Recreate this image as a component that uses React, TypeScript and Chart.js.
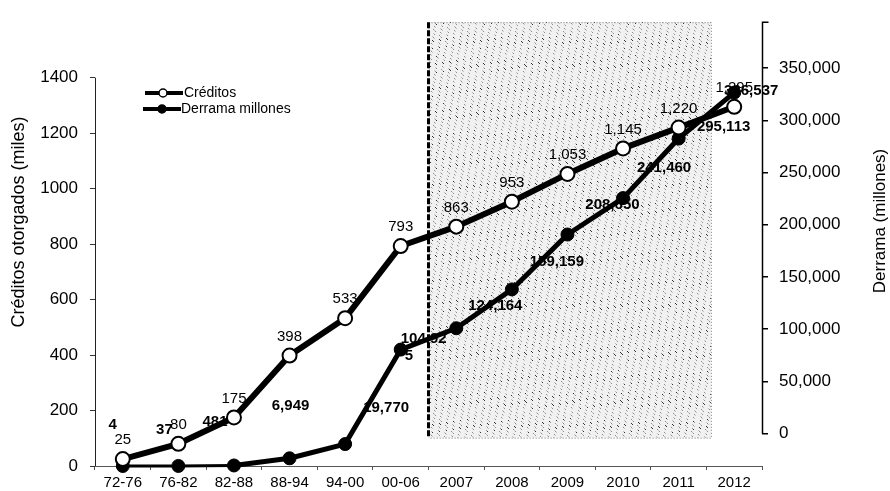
import React, { useEffect, useRef } from "react";
import { Chart, registerables } from "chart.js";

Chart.register(...registerables);

// ---- data ----
const categories = ["72-76", "76-82", "82-88", "88-94", "94-00", "00-06", "2007", "2008", "2009", "2010", "2011", "2012"];
const seriesNames = ["Créditos", "Derrama millones"];
const creditos = [25, 80, 175, 398, 533, 793, 863, 953, 1053, 1145, 1220, 1295];
const derrama = [4, 37, 481, 6949, 19770, 104925, 124164, 159159, 208650, 241460, 295113, 336537];
const leftTicks = [0, 200, 400, 600, 800, 1000, 1200, 1400];
const rightTicks = [0, 50000, 100000, 150000, 200000, 250000, 300000, 350000];
const leftTitle = "Créditos otorgados (miles)";
const rightTitle = "Derrama (millones)";

// ---- label placement (style, not data) ----
const derramaLabelLayout = [
  { dx: -10, dy: -41 },
  { dx: -14, dy: -36 },
  { dx: -19, dy: -44 },
  { dx: 1, dy: -52 },
  { dx: 41, dy: -36 },
  { dx: 0, dy: -11, wrap: 6 },
  { dx: 39, dy: -22 },
  { dx: 45, dy: -28 },
  { dx: 45, dy: -30 },
  { dx: 41, dy: -30 },
  { dx: 45, dy: -12 },
  { dx: 17, dy: -2 },
];

const FAMILY = '"Liberation Sans", Arial, Helvetica, sans-serif';
const fmt = (v: number) => Number(v).toLocaleString("en-US");

function makeStipple(): HTMLCanvasElement {
  const c = document.createElement("canvas");
  c.width = 48;
  c.height = 48;
  const g = c.getContext("2d")!;
  g.fillStyle = "#f1f1f1";
  g.fillRect(0, 0, 48, 48);
  for (let i = 0; i < 230; i++) {
    const x = (i * 37 + 11 + Math.floor(i / 48) * 5) % 48;
    const y = (i * 29 + 7 + Math.floor(i / 48) * 17) % 48;
    g.fillStyle = i % 5 === 0 ? "#333" : i % 2 === 0 ? "#8f8f8f" : "#c2c2c2";
    g.fillRect(x, y, 1, 1);
  }
  return c;
}

const decorPlugin = {
  id: "decor",
  beforeDatasetsDraw(chart: any) {
    const ctx = chart.ctx as CanvasRenderingContext2D;
    const { chartArea } = chart;
    const x = chart.scales.x;
    const yR = chart.scales.yR;
    const left = (x.getPixelForValue(5) + x.getPixelForValue(6)) / 2;
    const right = x.getPixelForValue(10) + 0.58 * (x.getPixelForValue(11) - x.getPixelForValue(10));
    const top = chartArea.top;
    const bottom = yR.getPixelForValue(0) + 4;
    ctx.save();
    const pat = ctx.createPattern(makeStipple(), "repeat");
    ctx.fillStyle = pat || "#e8e8e8";
    ctx.fillRect(left, top, right - left, bottom - top);
    // thin dotted border
    ctx.strokeStyle = "#777";
    ctx.lineWidth = 1;
    ctx.setLineDash([1, 2]);
    ctx.beginPath();
    ctx.moveTo(left, top + 0.5);
    ctx.lineTo(right + 0.5, top + 0.5);
    ctx.lineTo(right + 0.5, bottom + 0.5);
    ctx.lineTo(left, bottom + 0.5);
    ctx.stroke();
    // thick dashed left edge
    ctx.strokeStyle = "#000";
    ctx.lineWidth = 3;
    ctx.setLineDash([6, 2]);
    ctx.beginPath();
    ctx.moveTo(left, top);
    ctx.lineTo(left, bottom);
    ctx.stroke();
    ctx.setLineDash([]);

    // derrama labels (drawn under the lines)
    const meta = chart.getDatasetMeta(1);
    ctx.fillStyle = "#000";
    ctx.font = `bold 15px ${FAMILY}`;
    ctx.textBaseline = "middle";
    derrama.forEach((v, i) => {
      const p = meta.data[i];
      const lay: any = derramaLabelLayout[i];
      const txt = fmt(v);
      if (lay.wrap) {
        ctx.textAlign = "left";
        ctx.fillText(txt.slice(0, lay.wrap), p.x + lay.dx, p.y + lay.dy);
        ctx.fillText(txt.slice(lay.wrap), p.x + lay.dx + 4, p.y + lay.dy + 17);
      } else {
        ctx.textAlign = "center";
        ctx.fillText(txt, p.x + lay.dx, p.y + lay.dy);
      }
    });
    ctx.restore();
  },
  afterDatasetsDraw(chart: any) {
    const ctx = chart.ctx as CanvasRenderingContext2D;
    const meta = chart.getDatasetMeta(0);
    ctx.save();
    ctx.fillStyle = "#000";
    ctx.font = `15px ${FAMILY}`;
    ctx.textAlign = "center";
    ctx.textBaseline = "middle";
    creditos.forEach((v, i) => {
      const p = meta.data[i];
      ctx.fillText(fmt(v), p.x, p.y - 19);
    });
    ctx.restore();
  },
  afterDraw(chart: any) {
    const ctx = chart.ctx as CanvasRenderingContext2D;
    const { chartArea } = chart;
    const y = chart.scales.y;
    const yR = chart.scales.yR;
    ctx.save();
    // left axis line (0..1400)
    ctx.strokeStyle = "#222";
    ctx.lineWidth = 1;
    ctx.beginPath();
    ctx.moveTo(chartArea.left + 0.5, y.getPixelForValue(leftTicks[leftTicks.length - 1]));
    ctx.lineTo(chartArea.left + 0.5, chartArea.bottom);
    ctx.stroke();
    // right axis line
    const rx = chartArea.right + 0.5;
    ctx.strokeStyle = "#000";
    ctx.lineWidth = 1.5;
    ctx.beginPath();
    ctx.moveTo(rx + 6, chartArea.top);
    ctx.lineTo(rx, chartArea.top);
    ctx.lineTo(rx, yR.getPixelForValue(0));
    ctx.stroke();

    // axis titles
    ctx.fillStyle = "#000";
    ctx.textAlign = "center";
    ctx.textBaseline = "middle";
    ctx.font = `18px ${FAMILY}`;
    ctx.save();
    ctx.translate(19, 222);
    ctx.rotate(-Math.PI / 2);
    ctx.fillText(leftTitle, 0, 0);
    ctx.restore();
    ctx.font = `17px ${FAMILY}`;
    ctx.save();
    ctx.translate(880, 221);
    ctx.rotate(-Math.PI / 2);
    ctx.fillText(rightTitle, 0, 0);
    ctx.restore();

    // legend
    const items = [
      { y: 93, x0: 145, x1: 183, mx: 163, fill: "#fff", text: chart.data.datasets[0].label, tx: 184 },
      { y: 109, x0: 143, x1: 181, mx: 162, fill: "#000", text: chart.data.datasets[1].label, tx: 181 },
    ];
    items.forEach((it) => {
      ctx.strokeStyle = "#000";
      ctx.lineWidth = 4;
      ctx.beginPath();
      ctx.moveTo(it.x0, it.y);
      ctx.lineTo(it.x1, it.y);
      ctx.stroke();
      ctx.beginPath();
      ctx.arc(it.mx, it.y, 4, 0, Math.PI * 2);
      ctx.fillStyle = it.fill;
      ctx.fill();
      ctx.lineWidth = 1.5;
      ctx.stroke();
      ctx.fillStyle = "#000";
      ctx.font = `14px ${FAMILY}`;
      ctx.textAlign = "left";
      ctx.fillText(it.text, it.tx, it.y);
    });
    ctx.restore();
  },
};

export default function App() {
  const ref = useRef<HTMLCanvasElement | null>(null);

  useEffect(() => {
    if (!ref.current) return;
    const chart = new Chart(ref.current, {
      type: "line",
      data: {
        labels: categories,
        datasets: [
          {
            label: seriesNames[0],
            data: creditos,
            yAxisID: "y",
            borderColor: "#000",
            borderWidth: 6,
            pointRadius: 7,
            pointBackgroundColor: "#fff",
            pointBorderColor: "#000",
            pointBorderWidth: 2,
            borderJoinStyle: "round",
            tension: 0,
            clip: false,
          },
          {
            label: seriesNames[1],
            data: derrama,
            yAxisID: "y2",
            borderColor: "#000",
            borderWidth: 5,
            pointRadius: 6.5,
            pointBackgroundColor: "#000",
            pointBorderColor: "#000",
            pointBorderWidth: 1,
            borderJoinStyle: "round",
            tension: 0,
            clip: false,
            segment: {
              borderWidth: (c: any) => (c.p0DataIndex < 2 ? 3 : 5),
            },
          } as any,
        ],
      },
      options: {
        responsive: false,
        animation: false,
        devicePixelRatio: 1,
        layout: { padding: { top: 13, left: 0, right: 0, bottom: 0 } },
        plugins: {
          legend: { display: false },
          tooltip: { enabled: false },
        },
        scales: {
          x: {
            type: "category",
            offset: true,
            grid: { offset: true, drawOnChartArea: false, drawTicks: true, tickLength: 4, color: "#555" },
            border: { display: true, color: "#555", dash: [2, 2], width: 1 },
            ticks: { color: "#000", font: { family: FAMILY, size: 15 }, padding: 4, maxRotation: 0, autoSkip: false },
            afterFit: (s: any) => {
              s.height = 25;
            },
          },
          y: {
            position: "left",
            min: 0,
            max: 1600,
            afterBuildTicks: (s: any) => {
              s.ticks = leftTicks.map((v) => ({ value: v }));
            },
            grid: { drawOnChartArea: false, drawTicks: true, tickLength: 5, color: "#333" },
            border: { display: false },
            ticks: {
              color: "#000",
              font: { family: FAMILY, size: 17 },
              padding: 12,
              callback: (v: any) => String(v),
            },
            afterFit: (s: any) => {
              s.width = 95;
            },
          },
          y2: {
            display: false,
            min: 0,
            max: 400000,
          },
          yR: {
            position: "right",
            min: -31000,
            max: 394000,
            afterBuildTicks: (s: any) => {
              s.ticks = rightTicks.map((v) => ({ value: v }));
            },
            grid: { drawOnChartArea: false, drawTicks: true, tickLength: 6, color: "#000", lineWidth: 1.5 },
            border: { display: false },
            ticks: {
              color: "#000",
              font: { family: FAMILY, size: 17 },
              padding: 11,
              callback: (v: any) => fmt(Number(v)),
            },
            afterFit: (s: any) => {
              s.width = 128;
            },
          },
        },
      } as any,
      plugins: [decorPlugin],
    });
    return () => chart.destroy();
  }, []);

  return (
    <div style={{ position: "absolute", left: 0, top: 0, width: 890, height: 491, background: "#fff" }}>
      <canvas ref={ref} width={890} height={491} style={{ width: 890, height: 491, display: "block" }} />
    </div>
  );
}
